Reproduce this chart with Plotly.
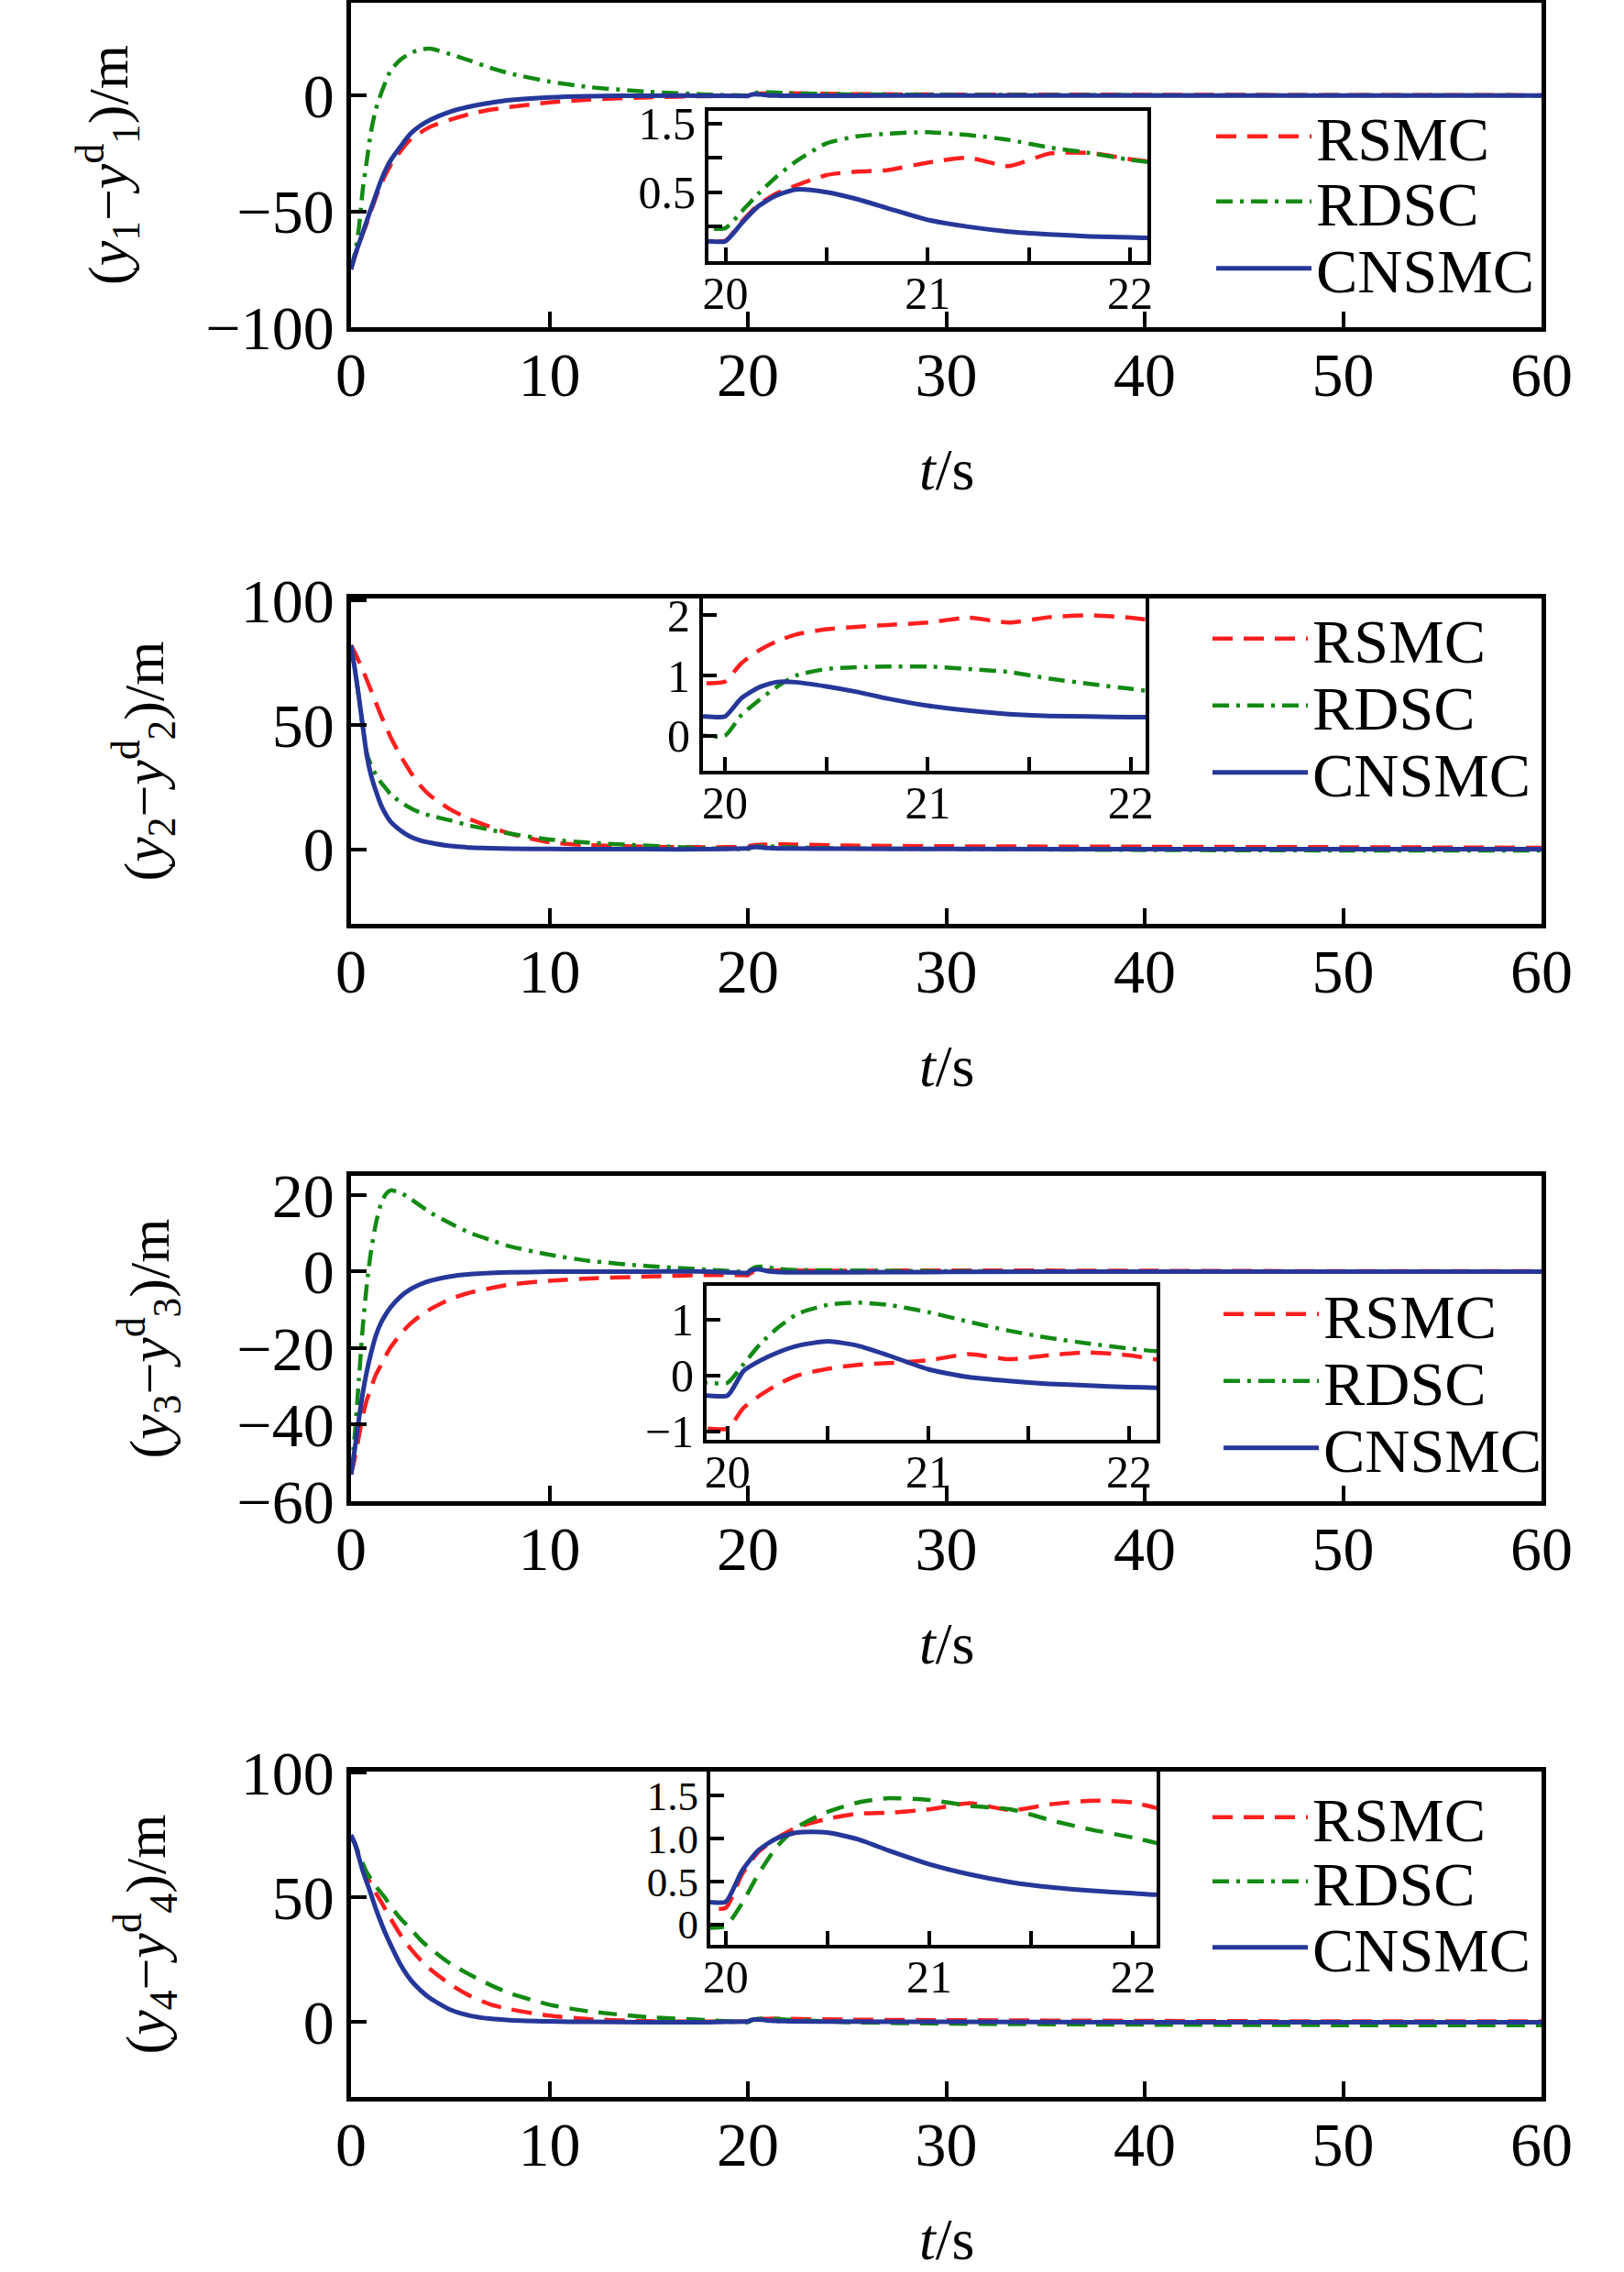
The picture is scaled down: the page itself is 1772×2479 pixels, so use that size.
import plotly.graph_objects as go

# ---------------- data ----------------
T_EARLY = [0, 0.2, 0.4, 0.6, 0.8, 1.0, 1.25, 1.5, 1.75, 2.0, 2.5, 3.0, 3.5, 4.0,
           5.0, 6.0, 7.0, 8.0, 10, 12, 15, 18]
T_INSET = [19.9, 20.0, 20.08, 20.16, 20.25, 20.35, 20.5, 20.65, 20.8, 21.0,
           21.2, 21.4, 21.6, 21.8, 22.0, 22.15]
T_TAIL = [25, 30, 40, 50, 60]

SERIES_NAMES = ["RSMC", "RDSC", "CNSMC"]

# panel 1: y1 - y1d
p1_rsmc_early = [-75, -69.5, -64.5, -59.5, -55, -50, -44, -38.5, -34, -30, -24, -19, -16, -13.5,
                 -10.5, -8, -6.2, -5, -3, -1.8, -0.8, -0.3]
p1_rsmc_inset = [-0.2, -0.2, 0.07, 0.31, 0.48, 0.6, 0.75, 0.8, 0.82, 0.93, 1.0, 0.88, 1.06, 1.07, 0.98, 0.93]
p1_rsmc_tail = [0.6, 0.4, 0.3, 0.15, 0.1]
p1_rdsc_early = [-75, -68, -57, -40, -28, -16, -6, 0.5, 6, 10.8, 15.5, 18.3, 19.8, 20.2,
                 17.8, 15, 12, 9.5, 6, 3.6, 1.6, 0.4]
p1_rdsc_inset = [-0.02, -0.02, 0.22, 0.47, 0.72, 0.95, 1.21, 1.31, 1.35, 1.37, 1.33, 1.26, 1.15, 1.07, 0.97, 0.92]
p1_rdsc_tail = [0.5, 0.3, 0.1, 0.05, 0]
p1_cnsmc_early = [-75, -69, -64, -59, -54, -49, -43, -37, -32, -28, -22, -16.5, -13, -10.5,
                  -7, -4.8, -3.2, -2.0, -0.8, -0.3, -0.1, -0.1]
p1_cnsmc_inset = [-0.21, -0.21, 0.05, 0.29, 0.45, 0.54, 0.5, 0.4, 0.27, 0.1, 0.0, -0.07, -0.11, -0.14, -0.155, -0.165]
p1_cnsmc_tail = [-0.12, -0.05, 0, 0, 0]

# panel 2: y2 - y2d
p2_rsmc_early = [82, 79, 75.5, 72, 68, 64, 59, 54, 49.5, 45, 37.5, 31, 25.5, 21.5,
                 16, 12, 9, 6.3, 2.8, 1.6, 1.0, 0.8]
p2_rsmc_inset = [0.87, 0.9, 1.2, 1.4, 1.56, 1.68, 1.77, 1.81, 1.84, 1.88, 1.96, 1.88, 1.97, 2.0, 1.96, 1.9]
p2_rsmc_tail = [1.5, 1.2, 1.0, 0.8, 0.6]
p2_rdsc_early = [82, 72, 61, 49, 38.5, 34, 30, 27, 24.5, 22, 19, 16.5, 14.7, 13.5,
                 11.6, 9.5, 7.8, 6.3, 3.9, 2.6, 1.4, 0.4]
p2_rdsc_inset = [0.0, 0.0, 0.34, 0.57, 0.8, 1.0, 1.11, 1.14, 1.15, 1.15, 1.11, 1.06, 0.95, 0.86, 0.78, 0.72]
p2_rdsc_tail = [0.3, 0.1, -0.3, -0.5, -0.5]
p2_cnsmc_early = [82, 72, 61, 49, 37.5, 30, 23.5, 18, 14, 11, 7.5, 5, 3.5, 2.6,
                  1.3, 0.7, 0.4, 0.2, 0.1, 0.05, 0, 0]
p2_cnsmc_inset = [0.32, 0.32, 0.62, 0.79, 0.89, 0.89, 0.82, 0.73, 0.62, 0.5, 0.42, 0.36, 0.33, 0.32, 0.31, 0.31]
p2_cnsmc_tail = [0.2, 0.1, 0.05, 0, 0]

# panel 3: y3 - y3d
p3_rsmc_early = [-53, -48.5, -43, -37.5, -33.5, -30.5, -27, -24.5, -22, -19.8, -16.3, -13.6, -11.5, -9.8,
                 -7.2, -5.5, -4.4, -3.4, -2.4, -1.8, -1.3, -0.9]
p3_rsmc_inset = [-0.95, -0.95, -0.58, -0.36, -0.16, 0.0, 0.12, 0.19, 0.22, 0.27, 0.38, 0.29, 0.36, 0.41, 0.36, 0.28]
p3_rsmc_tail = [0.2, 0.3, 0.2, 0.1, 0.1]
p3_rdsc_early = [-53, -42, -28, -14, -3.2, 5, 12.5, 17.5, 20.2, 21.2, 20.6, 19.0, 17.2, 15.4,
                 12.6, 10.1, 8.3, 6.6, 4.4, 2.8, 1.4, 0.5]
p3_rdsc_inset = [-0.13, -0.13, 0.2, 0.55, 0.85, 1.1, 1.26, 1.3, 1.26, 1.13, 0.96, 0.8, 0.67, 0.57, 0.48, 0.43]
p3_rdsc_tail = [0.3, 0.1, 0, 0, 0]
p3_cnsmc_early = [-53, -46, -38.5, -31.5, -26, -21.5, -16.8, -13.5, -11.2, -9.3, -6.5, -4.6, -3.3, -2.4,
                  -1.3, -0.7, -0.4, -0.2, -0.05, 0, 0, 0]
p3_cnsmc_inset = [-0.36, -0.36, 0.08, 0.26, 0.41, 0.53, 0.61, 0.53, 0.36, 0.11, -0.03, -0.1, -0.15, -0.18, -0.21, -0.22]
p3_cnsmc_tail = [-0.2, -0.1, 0, 0, 0]

# panel 4: y4 - y4d
p4_rsmc_early = [75, 71.5, 67, 62.5, 58.6, 55.5, 51.8, 48.5, 45, 41.5, 35, 29.5, 25, 21.2,
                 15.2, 10.5, 7.2, 5.2, 2.6, 1.2, 0.4, 0.2]
p4_rsmc_inset = [0.19, 0.19, 0.58, 0.84, 1.0, 1.13, 1.23, 1.29, 1.3, 1.34, 1.41, 1.33, 1.4, 1.44, 1.42, 1.34]
p4_rsmc_tail = [1.0, 0.8, 0.5, 0.3, 0.3]
p4_rdsc_early = [75, 71.5, 67.5, 63.5, 60, 57.5, 54.5, 52, 49.5, 46.5, 41.5, 37.5, 33, 29.5,
                 23.5, 19, 15, 11.6, 7, 4.3, 2, 0.8]
p4_rdsc_inset = [-0.04, -0.02, 0.24, 0.58, 0.9, 1.13, 1.31, 1.42, 1.47, 1.45, 1.38, 1.34, 1.21, 1.1, 1.01, 0.93]
p4_rdsc_tail = [0.0, -0.6, -1.0, -1.2, -1.2]
p4_cnsmc_early = [75, 71.5, 66, 60.5, 56, 51.5, 45.5, 40.2, 35.3, 31, 23, 17, 12.8, 9.5,
                  5, 2.6, 1.4, 0.8, 0.3, 0.1, 0, 0]
p4_cnsmc_inset = [0.26, 0.26, 0.62, 0.86, 1.0, 1.07, 1.07, 0.99, 0.86, 0.7, 0.58, 0.49, 0.43, 0.39, 0.36, 0.34]
p4_cnsmc_tail = [0.2, 0.1, 0, 0, 0]

X_TICKS = [0, 10, 20, 30, 40, 50, 60]
Y_TICKS = [[-100, -50, 0], [0, 50, 100], [-60, -40, -20, 0, 20], [0, 50, 100]]
Y_RANGES = [[-100, 40], [-30, 100.8], [-60, 25], [-30, 100.5]]
Y_LABELS = ["1", "2", "3", "4"]

INSET_X_TICKS = [20, 21, 22]
INSET_X_MINOR = [20.5, 21.5]
INSET_Y_TICKS = [[0.5, 1.5], [0, 1, 2], [-1, 0, 1], [0, 0.5, 1, 1.5]]
INSET_Y_TEXT = [["0.5", "1.5"], ["0", "1", "2"], ["\u22121", "0", "1"], ["0", "0.5", "1.0", "1.5"]]
INSET_Y_MINOR = [[0, 1], [], [], []]
INSET_X_RANGES = [[19.916, 22.086], [19.892, 22.073], [19.896, 22.137], [19.925, 22.115]]
INSET_Y_RANGES = [[-0.5, 1.68], [-0.58, 2.28], [-1.15, 1.6], [-0.24, 1.78]]

# ---------------- layout geometry (pixels of a 1772 x 2479 page) ----------------
W, H = 1772, 2479
PLOT_X = (383, 1682)
PLOT_Y = [(3, 357), (653, 1008), (1283, 1638), (1933, 2288)]
INSET_BOX = [(773, 1252, 121, 285), (767, 1250, 653, 841), (771, 1262, 1403, 1571), (775, 1262, 1933, 2122)]
INSET_YFONT = [50, 50, 50, 45]
LEG_X = [1322, 1318, 1330, 1318]
LEG_Y = [(149, 220, 293), (697, 770, 843), (1434, 1507, 1580), (1983, 2053, 2125)]
YTITLE_X = [118, 156, 162, 158]

FONT = "Liberation Serif"
RED, GREEN, BLUE = "#ff1f1f", "#138a13", "#26379a"
DASH_R = "22px,12px"
DASH_G = "18px,8px,4px,8px"
DASH_G4 = "20px,12px"


def px(x):
    return x / W


def py(y):
    return 1 - y / H


time = T_EARLY + T_INSET + T_TAIL
panels = [
    [p1_rsmc_early + p1_rsmc_inset + p1_rsmc_tail, p1_rdsc_early + p1_rdsc_inset + p1_rdsc_tail,
     p1_cnsmc_early + p1_cnsmc_inset + p1_cnsmc_tail],
    [p2_rsmc_early + p2_rsmc_inset + p2_rsmc_tail, p2_rdsc_early + p2_rdsc_inset + p2_rdsc_tail,
     p2_cnsmc_early + p2_cnsmc_inset + p2_cnsmc_tail],
    [p3_rsmc_early + p3_rsmc_inset + p3_rsmc_tail, p3_rdsc_early + p3_rdsc_inset + p3_rdsc_tail,
     p3_cnsmc_early + p3_cnsmc_inset + p3_cnsmc_tail],
    [p4_rsmc_early + p4_rsmc_inset + p4_rsmc_tail, p4_rdsc_early + p4_rdsc_inset + p4_rdsc_tail,
     p4_cnsmc_early + p4_cnsmc_inset + p4_cnsmc_tail],
]

fig = go.Figure()
layout = dict(
    width=W, height=H, margin=dict(l=0, r=0, t=0, b=0, pad=0, autoexpand=False),
    paper_bgcolor="white", plot_bgcolor="rgba(0,0,0,0)",
    font=dict(family=FONT, color="black"),
    annotations=[],
)

axis_common = dict(showline=True, linecolor="black", mirror=True, showgrid=False,
                   zeroline=False, ticks="inside", tickcolor="black", automargin=False)

for p in range(4):
    mx, my = p + 1, p + 1
    ix, iy = p + 5, p + 5
    colors = [RED, GREEN, BLUE]
    dashes = [DASH_R, DASH_G4 if p == 3 else DASH_G, "solid"]
    widths = [4.5, 4.5, 5]
    for s in range(3):
        vals = panels[p][s]
        line = dict(color=colors[s], width=widths[s], dash=dashes[s], shape="spline", smoothing=0.6)
        idx = p * 3 + s + 1
        leg = "legend" if idx == 1 else f"legend{idx}"
        legend_by_proxy = (p == 3 and s == 1)
        fig.add_trace(go.Scatter(
            x=time, y=vals, mode="lines", name=SERIES_NAMES[s], line=line,
            xaxis=f"x{mx}" if mx > 1 else "x", yaxis=f"y{my}" if my > 1 else "y",
            showlegend=not legend_by_proxy, legend=leg, hoverinfo="skip"))
        if legend_by_proxy:
            fig.add_trace(go.Scatter(
                x=[None], y=[None], mode="lines", name=SERIES_NAMES[s],
                line=dict(color=colors[s], width=widths[s], dash=DASH_G),
                xaxis="x4", yaxis="y4", showlegend=True, legend=leg))
        fig.add_trace(go.Scatter(
            x=time, y=vals, mode="lines", name=SERIES_NAMES[s], line=line,
            xaxis=f"x{ix}", yaxis=f"y{iy}", showlegend=False, hoverinfo="skip"))
        layout[leg] = dict(
            x=px(LEG_X[p]), y=py(LEG_Y[p][s]), xanchor="left", yanchor="middle",
            bgcolor="rgba(0,0,0,0)", borderwidth=0, itemwidth=104,
            font=dict(family=FONT, size=68, color="black"))

    xk = "xaxis" if mx == 1 else f"xaxis{mx}"
    yk = "yaxis" if my == 1 else f"yaxis{my}"
    layout[xk] = dict(axis_common, domain=[px(PLOT_X[0]), px(PLOT_X[1])], range=[0, 60],
                      anchor=f"y{my}" if my > 1 else "y", tickvals=X_TICKS,
                      ticklen=17, tickwidth=4, linewidth=4.5, ticklabelstandoff=-11,
                      tickfont=dict(family=FONT, size=68))
    layout[yk] = dict(axis_common, domain=[py(PLOT_Y[p][1]), py(PLOT_Y[p][0])], range=Y_RANGES[p],
                      anchor=f"x{mx}" if mx > 1 else "x", tickvals=Y_TICKS[p],
                      ticklen=17, tickwidth=4, linewidth=4.5,
                      tickfont=dict(family=FONT, size=68))
    bx0, bx1, by0, by1 = INSET_BOX[p]
    layout[f"xaxis{ix}"] = dict(axis_common, domain=[px(bx0), px(bx1)], range=INSET_X_RANGES[p],
                               anchor=f"y{iy}", tickvals=INSET_X_TICKS,
                               ticklen=15, tickwidth=3.5, linewidth=4, ticklabelstandoff=-12,
                               minor=dict(tickvals=INSET_X_MINOR, ticks="inside", ticklen=15,
                                          tickwidth=3.5, tickcolor="black"),
                               tickfont=dict(family=FONT, size=50))
    yminor = dict(tickvals=INSET_Y_MINOR[p], ticks="inside", ticklen=15, tickwidth=3.5,
                  tickcolor="black") if INSET_Y_MINOR[p] else dict(ticks="")
    layout[f"yaxis{iy}"] = dict(axis_common, domain=[py(by1), py(by0)], range=INSET_Y_RANGES[p],
                               anchor=f"x{ix}", tickvals=INSET_Y_TICKS[p], ticktext=INSET_Y_TEXT[p],
                               ticklen=15, tickwidth=3.5, linewidth=4, minor=yminor,
                               tickfont=dict(family=FONT, size=INSET_YFONT[p]))
    # axis titles
    yc = (PLOT_Y[p][0] + PLOT_Y[p][1]) / 2
    n = Y_LABELS[p]
    layout["annotations"].append(dict(
        text=f"(<i>y</i><sub>{n}</sub>\u2212<i>y</i><sup>d</sup><sub>{n}</sub>)/m",
        x=px(YTITLE_X[p]), y=py(yc), xref="paper", yref="paper", textangle=-90,
        xanchor="center", yanchor="middle", showarrow=False,
        font=dict(family=FONT, size=62, color="black")))
    layout["annotations"].append(dict(
        text="<i>t</i>/s", x=px((PLOT_X[0] + PLOT_X[1]) / 2), y=py(PLOT_Y[p][1] + 155),
        xref="paper", yref="paper", xanchor="center", yanchor="middle", showarrow=False,
        font=dict(family=FONT, size=64, color="black")))

fig.update_layout(**layout)
fig.write_html("out.html", config={"displayModeBar": False},
               post_script="document.body.style.margin='0';")
